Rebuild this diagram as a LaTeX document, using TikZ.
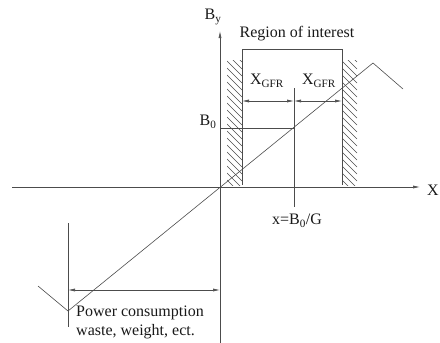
\documentclass[tikz,border=0pt]{standalone}
\usepackage{fontspec}
\setmainfont{Liberation Serif}
\usetikzlibrary{arrows.meta,positioning}

\begin{document}
\begin{tikzpicture}[x=1pt,y=-1pt,>={Latex[length=7pt,width=3pt]},
 font=\fontsize{16}{19}\selectfont,
 ln/.style={draw=black!70,line width=0.6pt},
 hatch/.style={draw=black!70,line width=0.5pt},
 lbl/.style={inner sep=0pt,text=black!90}]
\useasboundingbox (0,0) rectangle (440,343);
% axes
\coordinate (O) at (220,187);
\coordinate (xl) at (12,187); \coordinate (xr) at (420,187);
\coordinate (yb) at (220,343); \coordinate (yt) at (220,31);
\draw[ln,->] (xl) -- (xr);
\draw[ln,->] (yb) -- (yt);
\node[lbl,anchor=west] (X) at (427,190) {X};
\node[lbl] (By) at (213,17) {B\textsubscript{y}};
% walls of the region
\coordinate (wl-t) at (242,60); \coordinate (wl-b) at (242,185);
\coordinate (wr-t) at (342,60); \coordinate (wr-b) at (342,185);
\draw[ln] (wl-t) -- (wl-b);
\draw[ln] (wr-t) -- (wr-b);
\begin{scope}
\clip (227,60) rectangle (242,185);
\foreach \y in {47,54,...,185} \draw[hatch] (227,\y) -- ++(15,15);
\end{scope}
\begin{scope}
\clip (342,60) rectangle (357,185);
\foreach \y in {47,54,...,185} \draw[hatch] (342,\y) -- ++(15,15);
\end{scope}
\coordinate (br-l) at (242,49); \coordinate (br-r) at (342,49);
\draw[ln] (wl-t) -- (br-l) -- (br-r) -- (wr-t);
\node[lbl] (roi) at (297,34) {Region of interest};
% centre line and widths
\coordinate (m-t) at (294,88); \coordinate (m-b) at (294,207);
\draw[ln] (m-t) -- (m-b);
\coordinate (d-l) at (242,101); \coordinate (d-m) at (294,101); \coordinate (d-r) at (342,101);
\draw[ln,<->] (d-l) -- (d-m);
\draw[ln,<->] (d-m) -- (d-r);
\node[lbl] (g1) at (267,81) {X\textsubscript{GFR}};
\node[lbl] (g2) at (319,81) {X\textsubscript{GFR}};
\coordinate (b0-a) at (220,128); \coordinate (b0-b) at (294,128);
\draw[ln] (b0-a) -- (b0-b);
\node[lbl] (B0) at (208,122) {B\textsubscript{0}};
\node[lbl] (xeq) at (297,221) {x=B\textsubscript{0}/G};
% field profile
\coordinate (c1) at (38,286); \coordinate (c2) at (68,311);
\coordinate (c3) at (373,63); \coordinate (c4) at (403,89);
\draw[ln] (c1) -- (c2) -- (c3) -- (c4);
% power span
\coordinate (p-t) at (68,223); \coordinate (p-b) at (68,327);
\draw[ln] (p-t) -- (p-b);
\coordinate (pa-l) at (68,290); \coordinate (pa-r) at (220,290);
\draw[ln,<->] (pa-l) -- (pa-r);
\node[lbl,anchor=west,align=left] (pw) at (76,322) {Power consumption\\waste, weight, ect.};
\end{tikzpicture}
\end{document}
